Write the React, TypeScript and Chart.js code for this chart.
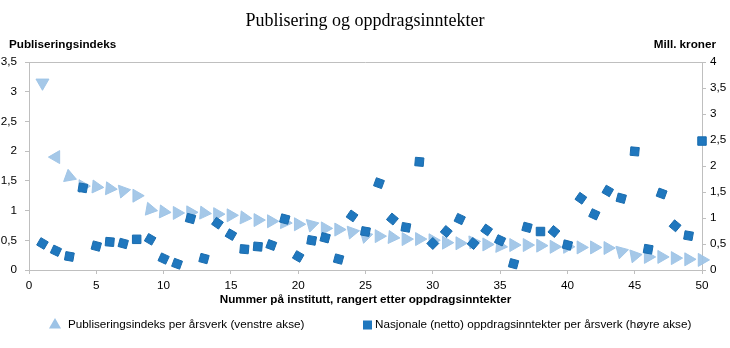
import React, { useEffect, useRef } from 'react';
import { Chart, registerables } from 'chart.js';

Chart.register(...registerables);

// ---- Data ----
const TITLE = 'Publisering og oppdragsinntekter';
const LEFT_AXIS_TITLE = 'Publiseringsindeks';
const RIGHT_AXIS_TITLE = 'Mill. kroner';
const X_AXIS_TITLE = 'Nummer på institutt, rangert etter oppdragsinntekter';
const SERIES_PUB = 'Publiseringsindeks per årsverk (venstre akse)';
const SERIES_INC = 'Nasjonale (netto) oppdragsinntekter per årsverk (høyre akse)';

const instituteRank = [
  1, 2, 3, 4, 5, 6, 7, 8, 9, 10,
  11, 12, 13, 14, 15, 16, 17, 18, 19, 20,
  21, 22, 23, 24, 25, 26, 27, 28, 29, 30,
  31, 32, 33, 34, 35, 36, 37, 38, 39, 40,
  41, 42, 43, 44, 45, 46, 47, 48, 49, 50,
];

const publicationIndex = [
  3.15, 1.9, 1.57, 1.41, 1.4, 1.37, 1.33, 1.25, 1.02, 0.98,
  0.96, 0.97, 0.96, 0.94, 0.92, 0.88, 0.84, 0.82, 0.8, 0.77,
  0.76, 0.7, 0.68, 0.64, 0.57, 0.57, 0.55, 0.52, 0.52, 0.5,
  0.46, 0.45, 0.47, 0.43, 0.4, 0.42, 0.42, 0.41, 0.39, 0.39,
  0.38, 0.38, 0.37, 0.31, 0.24, 0.22, 0.22, 0.2, 0.18, 0.17,
];

const commissionIncome = [
  0.51, 0.37, 0.26, 1.58, 0.46, 0.54, 0.51, 0.59, 0.59, 0.22,
  0.12, 0.99, 0.22, 0.9, 0.68, 0.4, 0.45, 0.48, 0.98, 0.26,
  0.57, 0.62, 0.21, 1.04, 0.74, 1.67, 0.98, 0.82, 2.08, 0.51,
  0.74, 0.98, 0.51, 0.77, 0.57, 0.12, 0.82, 0.74, 0.74, 0.48,
  1.38, 1.07, 1.52, 1.38, 2.28, 0.4, 1.47, 0.85, 0.66, 2.48,
];

// marker orientation (degrees) as seen in the original
const triangleRotation = [
  180, 270, 350, 90, 95, 95, 80, 330, 100, 95,
  90, 90, 95, 90, 90, 95, 90, 90, 95, 90,
  75, 90, 90, 80, 75, 90, 95, 90, 90, 90,
  90, 90, 85, 90, 95, 90, 90, 90, 90, 90,
  90, 90, 90, 75, 80, 90, 90, 90, 90, 90,
];
const squareRotation = [
  30, 25, 10, 10, 15, 5, 15, 0, 30, 25,
  20, 15, 15, 35, 30, 5, 5, 20, 15, 30,
  10, 15, 15, 35, 10, 20, 40, 10, 5, 45,
  40, 25, 40, 35, 25, 15, 15, 0, 40, 15,
  35, 25, 30, 15, 5, 10, 20, 40, 10, 0,
];

// ---- Styles ----
const SANS = '"Liberation Sans", Arial, sans-serif';
const SERIF = '"Liberation Serif", "Times New Roman", serif';
const FS = 11.7;
const AXIS_COLOR = '#bfbfbf';
const LIGHT_BLUE = '#9dc3e6';
const DARK_BLUE = '#1f77be';

const fmt = (v: number | string) => String(v).replace('.', ',');

const decorPlugin = {
  id: 'decor',
  beforeDatasetsDraw(chart: any) {
    const { ctx, chartArea } = chart;
    ctx.save();
    ctx.strokeStyle = AXIS_COLOR;
    ctx.lineWidth = 1;
    ctx.beginPath();
    ctx.moveTo(chartArea.left, Math.round(chartArea.top) + 0.5);
    ctx.lineTo(chartArea.right, Math.round(chartArea.top) + 0.5);
    ctx.stroke();
    ctx.restore();
  },
  afterDraw(chart: any) {
    const { ctx } = chart;
    ctx.save();
    ctx.fillStyle = '#000';
    ctx.font = `bold ${FS}px ${SANS}`;
    ctx.textBaseline = 'alphabetic';
    ctx.textAlign = 'left';
    ctx.fillText(LEFT_AXIS_TITLE, 9, 48);
    ctx.textAlign = 'right';
    ctx.fillText(RIGHT_AXIS_TITLE, 716, 48);

    // legend
    const ly = 325;
    ctx.font = `${FS}px ${SANS}`;
    ctx.textAlign = 'left';
    ctx.textBaseline = 'middle';
    const r = 7;
    const tx = 55;
    ctx.fillStyle = LIGHT_BLUE;
    ctx.beginPath();
    ctx.moveTo(tx, ly - r);
    ctx.lineTo(tx + r * Math.sin((2 * Math.PI) / 3), ly - r * Math.cos((2 * Math.PI) / 3));
    ctx.lineTo(tx + r * Math.sin((4 * Math.PI) / 3), ly - r * Math.cos((4 * Math.PI) / 3));
    ctx.closePath();
    ctx.fill();
    ctx.fillStyle = '#000';
    ctx.fillText(SERIES_PUB, 68, ly);
    ctx.fillStyle = DARK_BLUE;
    ctx.fillRect(363, ly - 4.5, 9, 9);
    ctx.fillStyle = '#000';
    ctx.fillText(SERIES_INC, 375, ly);
    ctx.restore();
  },
};

export default function App() {
  const canvasRef = useRef<HTMLCanvasElement | null>(null);

  useEffect(() => {
    const canvas = canvasRef.current;
    if (!canvas) return;

    const pubPoints = instituteRank.map((x, i) => ({ x, y: publicationIndex[i] }));
    const incPoints = instituteRank.map((x, i) => ({ x, y: commissionIncome[i] }));

    const chart = new Chart(canvas, {
      type: 'scatter',
      data: {
        datasets: [
          {
            label: SERIES_PUB,
            data: pubPoints,
            yAxisID: 'y',
            pointStyle: 'triangle',
            pointRadius: 7.5,
            pointHoverRadius: 7.5,
            pointRotation: triangleRotation,
            backgroundColor: 'rgba(157,195,230,0.92)',
            borderColor: 'rgba(157,195,230,0.92)',
            borderWidth: 1,
            clip: false,
            order: 1,
          },
          {
            label: SERIES_INC,
            data: incPoints,
            yAxisID: 'y2',
            pointStyle: 'rect',
            pointRadius: 6,
            pointHoverRadius: 6,
            pointRotation: squareRotation,
            backgroundColor: DARK_BLUE,
            borderColor: '#1a6cae',
            borderWidth: 1,
            clip: false,
            order: 0,
          },
        ],
      },
      options: {
        responsive: false,
        animation: false,
        devicePixelRatio: 1,
        layout: { padding: 0 },
        plugins: {
          legend: { display: false },
          tooltip: { enabled: false },
          title: {
            display: true,
            text: TITLE,
            color: '#000',
            font: { family: SERIF, size: 18, weight: 'normal' },
            padding: { top: 10.2, bottom: 30.2 },
          },
        },
        scales: {
          x: {
            type: 'linear',
            position: 'bottom',
            min: 0,
            max: 50,
            afterFit: (s: any) => {
              s.height = 78;
            },
            ticks: {
              stepSize: 5,
              color: '#000',
              padding: 5,
              font: { family: SANS, size: FS },
              maxRotation: 0,
            },
            grid: {
              drawOnChartArea: false,
              drawTicks: true,
              tickLength: 4,
              color: AXIS_COLOR,
            },
            border: { color: AXIS_COLOR, width: 1 },
            title: {
              display: true,
              text: X_AXIS_TITLE,
              color: '#000',
              font: { family: SANS, size: FS, weight: 'bold' },
              padding: { top: 0, bottom: 41 },
            },
          },
          y: {
            type: 'linear',
            position: 'left',
            min: 0,
            max: 3.5,
            afterFit: (s: any) => {
              s.width = 29;
            },
            ticks: {
              stepSize: 0.5,
              color: '#000',
              padding: 8,
              font: { family: SANS, size: FS },
              callback: (v: any) => fmt(v),
            },
            grid: {
              drawOnChartArea: false,
              drawTicks: true,
              tickLength: 4,
              color: AXIS_COLOR,
            },
            border: { color: AXIS_COLOR, width: 1 },
          },
          y2: {
            type: 'linear',
            position: 'right',
            min: 0,
            max: 4,
            afterFit: (s: any) => {
              s.width = 28;
            },
            ticks: {
              stepSize: 0.5,
              color: '#000',
              padding: 4,
              font: { family: SANS, size: FS },
              callback: (v: any) => fmt(v),
            },
            grid: {
              drawOnChartArea: false,
              drawTicks: true,
              tickLength: 4,
              color: AXIS_COLOR,
            },
            border: { color: AXIS_COLOR, width: 1 },
          },
        },
      },
      plugins: [decorPlugin],
    });

    return () => chart.destroy();
  }, []);

  return (
    <div style={{ position: 'fixed', left: 0, top: 0, width: 730, height: 348, background: '#fff' }}>
      <canvas ref={canvasRef} width={730} height={348} style={{ display: 'block' }} />
    </div>
  );
}
